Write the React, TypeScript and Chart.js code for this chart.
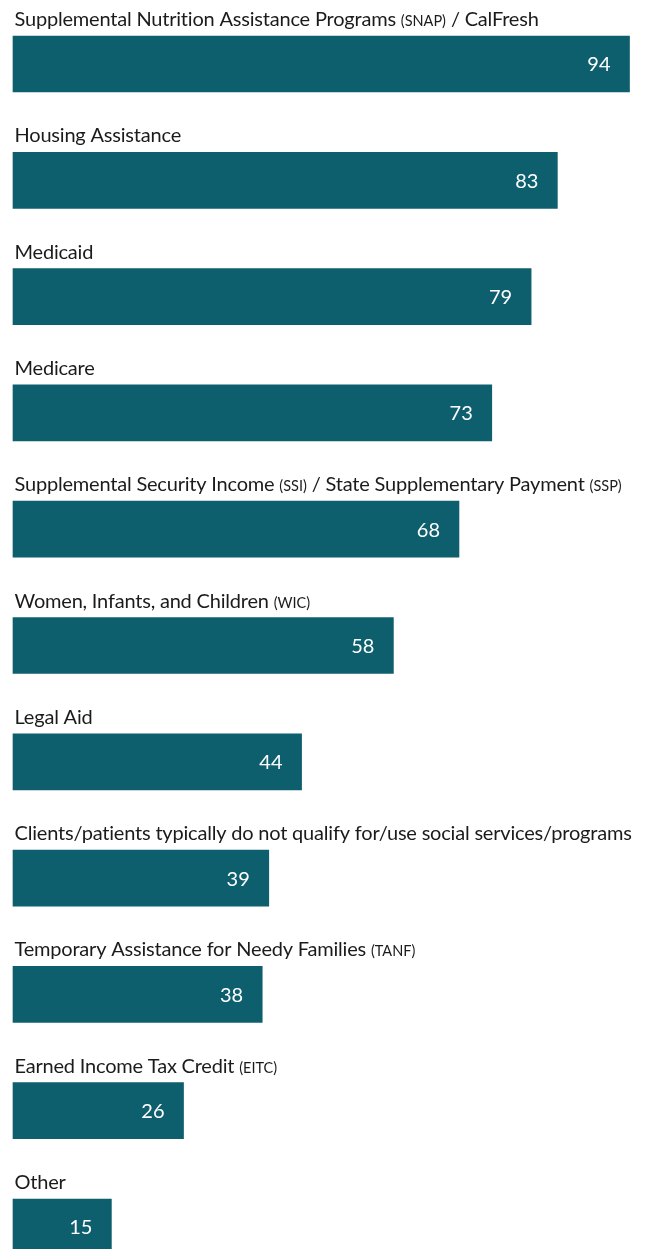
import React, { useEffect, useRef } from "react";
import { Chart, registerables } from "chart.js";

Chart.register(...registerables);

const categories: string[] = [
  "Supplemental Nutrition Assistance Programs (SNAP) / CalFresh",
  "Housing Assistance",
  "Medicaid",
  "Medicare",
  "Supplemental Security Income (SSI) / State Supplementary Payment (SSP)",
  "Women, Infants, and Children (WIC)",
  "Legal Aid",
  "Clients/patients typically do not qualify for/use social services/programs",
  "Temporary Assistance for Needy Families (TANF)",
  "Earned Income Tax Credit (EITC)",
  "Other",
];

const values: number[] = [94, 83, 79, 73, 68, 58, 44, 39, 38, 26, 15];

const BAR_COLOR = "#0e5f6e";
const TEXT_COLOR = "#1b1b1b";
const FONT_FAMILY = "Lato, 'Noto Sans', sans-serif";
const MAIN_SIZE = 20;
const SMALL_SIZE = 14.5;

function splitLabel(label: string): { text: string; small: boolean }[] {
  const parts: { text: string; small: boolean }[] = [];
  const re = /\([^)]*\)/g;
  let last = 0;
  let m: RegExpExecArray | null;
  while ((m = re.exec(label)) !== null) {
    if (m.index > last) parts.push({ text: label.slice(last, m.index), small: false });
    parts.push({ text: m[0], small: true });
    last = m.index + m[0].length;
  }
  if (last < label.length) parts.push({ text: label.slice(last), small: false });
  return parts;
}

const labelPlugin = {
  id: "barLabels",
  afterDatasetsDraw(chart: any) {
    const ctx = chart.ctx;
    const meta = chart.getDatasetMeta(0);
    ctx.save();
    meta.data.forEach((bar: any, i: number) => {
      const { x, y, base, height } = bar.getProps(["x", "y", "base", "height"], true);
      const top = y - height / 2;
      let tx = base + 1.5;
      const baseline = top - 10;
      ctx.textBaseline = "alphabetic";
      ctx.textAlign = "left";
      ctx.fillStyle = TEXT_COLOR;
      splitLabel(chart.data.labels[i]).forEach((p) => {
        ctx.font = `${p.small ? SMALL_SIZE : MAIN_SIZE}px ${FONT_FAMILY}`;
        (ctx as any).letterSpacing = p.small ? "0px" : "-0.2px";
        ctx.fillText(p.text, tx, baseline);
        tx += ctx.measureText(p.text).width;
      });
      (ctx as any).letterSpacing = "0px";
      ctx.font = `20px ${FONT_FAMILY}`;
      ctx.fillStyle = "#ffffff";
      ctx.textAlign = "right";
      ctx.textBaseline = "middle";
      ctx.fillText(String(chart.data.datasets[0].data[i]), x - 19, y + 1);
    });
    ctx.restore();
  },
};

export default function App() {
  const canvasRef = useRef<HTMLCanvasElement | null>(null);

  useEffect(() => {
    document.body.style.margin = "0";
    const canvas = canvasRef.current;
    if (!canvas) return;
    const chart = new Chart(canvas, {
      type: "bar",
      data: {
        labels: categories,
        datasets: [
          {
            data: values,
            backgroundColor: BAR_COLOR,
            barThickness: 56,
            clip: false as any,
          },
        ],
      },
      options: {
        indexAxis: "y",
        responsive: false,
        animation: false,
        devicePixelRatio: 1,
        layout: { padding: { top: 64, bottom: 22, left: 13, right: 15.5 } },
        scales: {
          x: { display: false, min: 0, max: 94 },
          y: { display: false, offset: false },
        },
        plugins: {
          legend: { display: false },
          tooltip: { enabled: false },
        },
      },
      plugins: [labelPlugin],
    });
    return () => chart.destroy();
  }, []);

  return (
    <div style={{ width: 645, height: 1249, overflow: "hidden" }}>
      <canvas ref={canvasRef} width={645} height={1249} style={{ display: "block" }} />
    </div>
  );
}
